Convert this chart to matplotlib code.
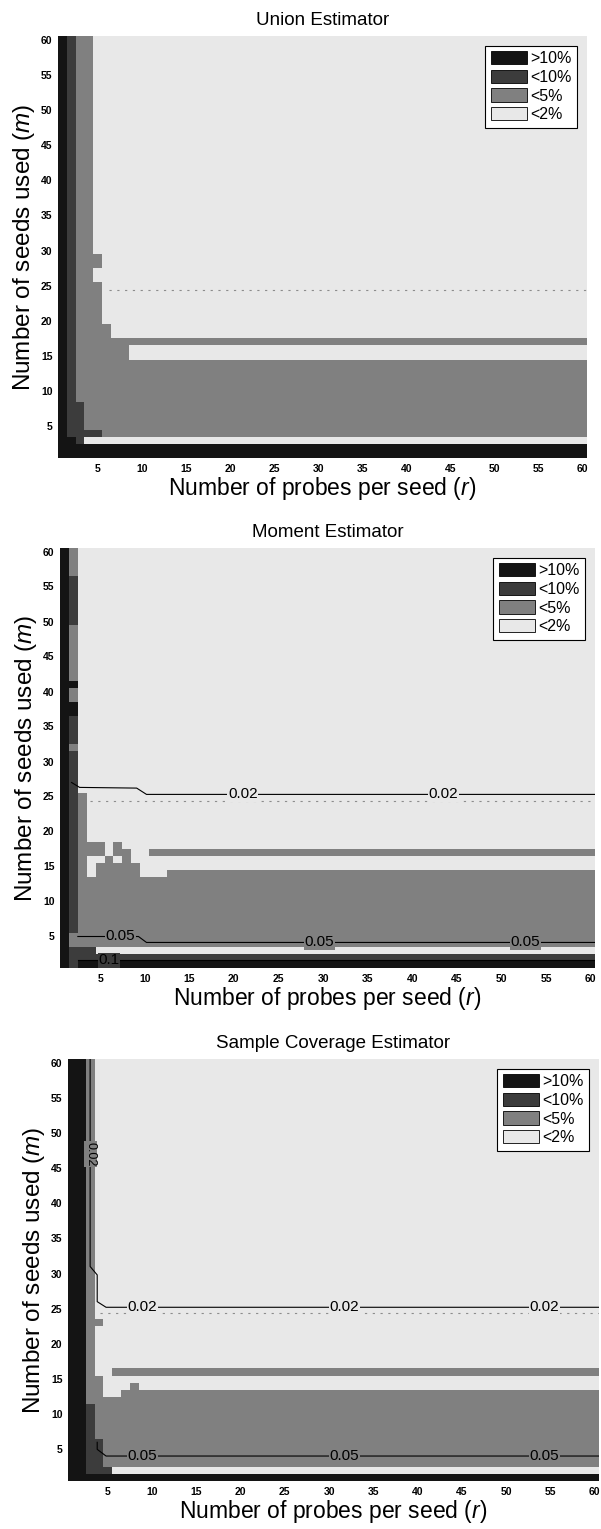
import numpy as np
import matplotlib
matplotlib.use('Agg')
import matplotlib.pyplot as plt
from matplotlib.colors import ListedColormap
from matplotlib.patches import Patch

plt.rcParams['font.family'] = ['Liberation Sans', 'DejaVu Sans']
plt.rcParams['mathtext.fontset'] = 'custom'
plt.rcParams['mathtext.rm'] = 'Liberation Sans'
plt.rcParams['mathtext.it'] = 'Liberation Sans:italic'

# --- data -------------------------------------------------------------------
N_PROBES = 60          # r = 1..60
N_SEEDS = 60           # m = 1..60
TICKS = list(range(5, 61, 5))
CLASS_LABELS = ['>10%', '<10%', '<5%', '<2%']   # legend order, darkest first

# level codes: 0 '<2%', 1 '<5%', 2 '<10%', 3 '>10%'
# fill = (level, r_first, r_last, m_first, m_last), painted in order over '<2%'
UNION_FILLS = [
    (1, 3, 60, 4, 14),
    (1, 3, 4, 15, 60),
    (1, 5, 8, 15, 16),
    (1, 5, 60, 17, 17),
    (1, 5, 6, 18, 19),
    (1, 5, 5, 20, 25),
    (1, 5, 5, 28, 29),
    (2, 2, 2, 4, 60),
    (2, 3, 3, 4, 8),
    (2, 2, 5, 4, 4),
    (3, 1, 1, 1, 60),
    (3, 1, 60, 1, 2),
    (3, 2, 2, 3, 3),
    (2, 3, 3, 3, 3),
]

MOMENT_FILLS = [
    (1, 3, 60, 4, 13),
    (1, 13, 60, 14, 14),
    (1, 3, 3, 14, 25),
    (1, 5, 9, 14, 15),
    (1, 6, 6, 16, 16),
    (1, 8, 8, 16, 17),
    (1, 4, 5, 17, 18),
    (1, 7, 7, 17, 18),
    (1, 11, 60, 17, 17),
    (2, 3, 4, 3, 3),
    (2, 2, 60, 2, 2),
    (3, 1, 60, 1, 1),
    (3, 1, 1, 1, 60),
    (2, 2, 2, 1, 3),
    (1, 2, 2, 4, 5),
    (2, 2, 2, 6, 31),
    (1, 2, 2, 32, 32),
    (2, 2, 2, 33, 36),
    (3, 2, 2, 37, 38),
    (1, 2, 2, 39, 40),
    (3, 2, 2, 41, 41),
    (1, 2, 2, 42, 49),
    (2, 2, 2, 50, 56),
    (1, 2, 2, 57, 60),
]

COVERAGE_FILLS = [
    (1, 3, 3, 12, 60),
    (2, 3, 3, 1, 11),
    (1, 4, 60, 3, 13),
    (0, 5, 6, 13, 13),
    (1, 4, 4, 14, 15),
    (1, 8, 8, 14, 14),
    (1, 6, 60, 16, 16),
    (1, 4, 4, 23, 23),
    (2, 4, 4, 1, 6),
    (2, 5, 5, 2, 2),
    (3, 1, 2, 1, 60),
    (3, 1, 60, 1, 1),
]

# faint dotted line seen near m = 24.4
UNION_DOT_R = [6.3, 60.5]
MOMENT_DOT_R = [3.9, 60.5]
COVERAGE_DOT_R = [4.1, 60.5]
DOT_M = 24.4

# contour lines
MOMENT_C02_R = [1.8, 2.7, 9.1, 10.2, 60.5]
MOMENT_C02_M = [27.0, 26.3, 26.2, 25.3, 25.3]
MOMENT_C02_LABEL_R = [21.0, 43.5]
MOMENT_C05_R = [2.5, 9.3, 10.2, 60.5]
MOMENT_C05_M = [5.0, 5.0, 4.15, 4.15]
MOMENT_C05_LABEL_R = [7.3, 29.6, 52.7]
MOMENT_C10_R = [2.5, 60.5]
MOMENT_C10_M = [1.6, 1.6]
MOMENT_C10_LABEL_R = [6.0]

COVERAGE_C02_R = [3.0, 3.0, 3.8, 3.8, 4.8, 60.5]
COVERAGE_C02_M = [60.5, 31.0, 29.8, 26.0, 25.2, 25.2]
COVERAGE_C02_LABEL_R = [8.9, 31.7, 54.3]
COVERAGE_C05_R = [3.8, 3.8, 4.8, 60.5]
COVERAGE_C05_M = [6.0, 5.0, 4.05, 4.05]
COVERAGE_C05_LABEL_R = [8.9, 31.7, 54.3]

# --- drawing ----------------------------------------------------------------
LEVEL_COLORS = ['#e8e8e8', '#808080', '#3c3c3c', '#141414']  # level 0..3
cmap = ListedColormap(LEVEL_COLORS)


def build_grid(fills):
    grid = np.zeros((N_SEEDS, N_PROBES), dtype=int)
    for lvl, r0, r1, m0, m1 in fills:
        grid[m0 - 1:m1, r0 - 1:r1] = lvl
    return grid


def level_at(grid, r, m):
    ri = int(np.clip(round(r), 1, N_PROBES)) - 1
    mi = int(np.clip(round(m), 1, N_SEEDS)) - 1
    return grid[mi, ri]


def draw_contour(ax, grid, rs, ms, text, label_rs, rotated=None):
    ax.plot(rs, ms, color='black', lw=0.8, zorder=3)
    for lr in label_rs:
        lm = np.interp(lr, rs, ms)
        bg = LEVEL_COLORS[level_at(grid, lr, lm)]
        ax.text(lr, lm, text, ha='center', va='center', fontsize=11,
                color='black', zorder=4,
                bbox=dict(facecolor=bg, edgecolor='none', pad=0.4))
    if rotated is not None:
        rr, rm = rotated
        ax.text(rr, rm, text, ha='center', va='center', fontsize=9,
                rotation=-90, color='black', zorder=4,
                bbox=dict(facecolor=LEVEL_COLORS[level_at(grid, rr, rm)],
                          edgecolor='none', pad=0.3))


def setup_panel(fig, rect, title, fills, dot_r):
    W, H = 601, 1529
    left, right, top, bottom = rect
    ax = fig.add_axes([left / W, 1 - bottom / H, (right - left) / W, (bottom - top) / H])
    grid = build_grid(fills)
    ax.imshow(grid, cmap=cmap, vmin=-0.5, vmax=3.5, origin='lower',
              extent=(0.5, N_PROBES + 0.5, 0.5, N_SEEDS + 0.5),
              aspect='auto', interpolation='nearest')
    ax.plot(dot_r, [DOT_M, DOT_M], color='#8c8c8c', lw=0.8,
            linestyle=(0, (2, 5)), zorder=2)
    ax.set_xlim(0.5, N_PROBES + 0.5)
    ax.set_ylim(0.5, N_SEEDS + 0.5)
    ax.set_xticks(TICKS)
    ax.set_yticks(TICKS)
    ax.tick_params(length=0, labelsize=7.5, pad=4)
    for lab in ax.get_xticklabels() + ax.get_yticklabels():
        lab.set_fontweight('bold')
    for sp in ax.spines.values():
        sp.set_visible(False)
    ax.set_title(title, fontsize=13.5, pad=8)
    ax.set_xlabel(r'Number of probes per seed ($\mathit{r}$)', fontsize=16.5, labelpad=1)
    ax.set_ylabel(r'Number of seeds used ($\mathit{m}$)', fontsize=17.5, labelpad=3)

    handles = [Patch(facecolor=LEVEL_COLORS[3 - i], edgecolor='black', lw=0.6)
               for i in range(4)]
    leg = ax.legend(handles, CLASS_LABELS, loc='upper right', fontsize=11.5,
                    frameon=True, fancybox=False, framealpha=1,
                    edgecolor='black', handlelength=2.3, handleheight=0.9,
                    handletextpad=0.2, labelspacing=0.22, borderpad=0.35,
                    borderaxespad=0.6)
    leg.get_frame().set_linewidth(0.8)
    leg.set_zorder(5)
    return ax, grid


fig = plt.figure(figsize=(6.01, 15.29), dpi=100)
fig.patch.set_facecolor('white')

setup_panel(fig, (58, 587, 36, 458), 'Union Estimator', UNION_FILLS, UNION_DOT_R)

ax2, g2 = setup_panel(fig, (60, 595, 548, 968), 'Moment Estimator',
                      MOMENT_FILLS, MOMENT_DOT_R)
draw_contour(ax2, g2, MOMENT_C02_R, MOMENT_C02_M, '0.02', MOMENT_C02_LABEL_R)
draw_contour(ax2, g2, MOMENT_C05_R, MOMENT_C05_M, '0.05', MOMENT_C05_LABEL_R)
draw_contour(ax2, g2, MOMENT_C10_R, MOMENT_C10_M, '0.1', MOMENT_C10_LABEL_R)

ax3, g3 = setup_panel(fig, (68, 599, 1059, 1481), 'Sample Coverage Estimator',
                      COVERAGE_FILLS, COVERAGE_DOT_R)
draw_contour(ax3, g3, COVERAGE_C02_R, COVERAGE_C02_M, '0.02', COVERAGE_C02_LABEL_R,
             rotated=(3.0, 47.0))
draw_contour(ax3, g3, COVERAGE_C05_R, COVERAGE_C05_M, '0.05', COVERAGE_C05_LABEL_R)

fig.savefig('out.png', dpi=100)
